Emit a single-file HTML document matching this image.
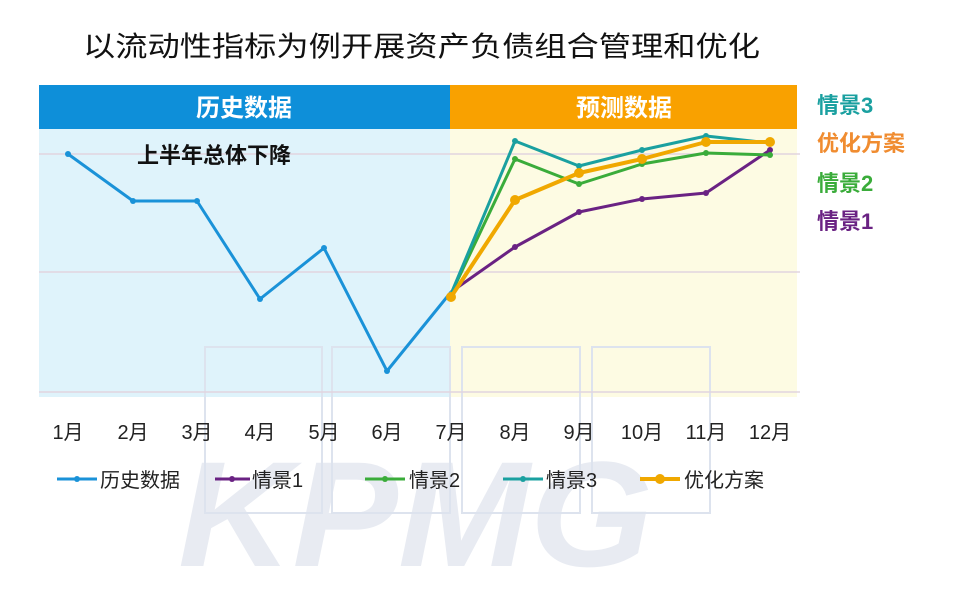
<!DOCTYPE html>
<html><head><meta charset="utf-8"><style>
html,body{margin:0;padding:0;background:#fff;}
svg{display:block;}
text{font-family:"Liberation Sans","Noto Sans CJK SC",sans-serif;}
</style></head><body>
<svg width="970" height="596" viewBox="0 0 970 596" xmlns="http://www.w3.org/2000/svg">
<text x="178" y="566" font-size="150" font-weight="bold" font-style="italic" fill="#e8ebf2" textLength="475" lengthAdjust="spacingAndGlyphs">KPMG</text>
<rect x="39" y="129" width="411" height="268" fill="#dff3fb"/>
<rect x="450" y="129" width="347" height="268" fill="#fdfbe3"/>
<g fill="none" stroke="#dde3ee" stroke-width="2">
<rect x="205" y="347" width="117" height="166"/>
<rect x="332" y="347" width="118" height="166"/>
<rect x="462" y="347" width="118" height="166"/>
<rect x="592" y="347" width="118" height="166"/>
</g>
<g stroke="#e2d5df" stroke-width="1.5">
<line x1="39" y1="154" x2="800" y2="154"/>
<line x1="39" y1="272" x2="800" y2="272"/>
<line x1="39" y1="392" x2="800" y2="392"/>
</g>
<rect x="39" y="85" width="411" height="44" fill="#0e8fd9"/>
<rect x="450" y="85" width="347" height="44" fill="#f9a100"/>
<text x="244" y="116" font-size="24" font-weight="bold" fill="#fff" text-anchor="middle">历史数据</text>
<text x="624" y="116" font-size="24" font-weight="bold" fill="#fff" text-anchor="middle">预测数据</text>
<text x="83" y="56" font-size="28" fill="#111" textLength="677" lengthAdjust="spacingAndGlyphs">以流动性指标为例开展资产负债组合管理和优化</text>
<text x="137" y="163" font-size="22" font-weight="bold" fill="#111">上半年总体下降</text>
<g fill="none" stroke-width="3" stroke-linejoin="round">
<polyline stroke="#1a92d8" points="68,154 133,201 197,201 260,299 324,248 387,371 451,292"/>
<polyline stroke="#6a2283" points="451,292 515,247 579,212 642,199 706,193 770,150"/>
<polyline stroke="#3aac3a" points="451,294 515,159 579,184 642,164 706,153 770,155"/>
<polyline stroke="#1aa0a0" points="451,294 515,141 579,166 642,150 706,136 770,143"/>
<polyline stroke="#f0a800" stroke-width="4" points="451,297 515,200 579,173 642,159 706,142 770,142"/>
</g>
<g fill="#1a92d8"><circle cx="68" cy="154" r="3"/><circle cx="133" cy="201" r="3"/><circle cx="197" cy="201" r="3"/><circle cx="260" cy="299" r="3"/><circle cx="324" cy="248" r="3"/><circle cx="387" cy="371" r="3"/></g>
<g fill="#6a2283"><circle cx="515" cy="247" r="3"/><circle cx="579" cy="212" r="3"/><circle cx="642" cy="199" r="3"/><circle cx="706" cy="193" r="3"/><circle cx="770" cy="150" r="3"/></g>
<g fill="#3aac3a"><circle cx="515" cy="159" r="3"/><circle cx="579" cy="184" r="3"/><circle cx="642" cy="164" r="3"/><circle cx="706" cy="153" r="3"/><circle cx="770" cy="155" r="3"/></g>
<g fill="#1aa0a0"><circle cx="515" cy="141" r="3"/><circle cx="579" cy="166" r="3"/><circle cx="642" cy="150" r="3"/><circle cx="706" cy="136" r="3"/></g>
<g fill="#f0a800"><circle cx="451" cy="297" r="5"/><circle cx="515" cy="200" r="5"/><circle cx="579" cy="173" r="5"/><circle cx="642" cy="159" r="5"/><circle cx="706" cy="142" r="5"/><circle cx="770" cy="142" r="5"/></g>
<g font-size="22" font-weight="bold">
<text x="817" y="113" fill="#1aa0a0">情景3</text>
<text x="817" y="151" fill="#f08c30">优化方案</text>
<text x="817" y="191" fill="#3aac3a">情景2</text>
<text x="817" y="229" fill="#6a2283">情景1</text>
</g>
<g font-size="20" fill="#222" text-anchor="middle">
<text x="68" y="439">1月</text><text x="133" y="439">2月</text><text x="197" y="439">3月</text><text x="260" y="439">4月</text><text x="324" y="439">5月</text><text x="387" y="439">6月</text><text x="451" y="439">7月</text><text x="515" y="439">8月</text><text x="579" y="439">9月</text><text x="642" y="439">10月</text><text x="706" y="439">11月</text><text x="770" y="439">12月</text>
</g>
<g stroke-width="3">
<line x1="57" y1="479" x2="97" y2="479" stroke="#1a92d8"/><circle cx="77" cy="479" r="3" fill="#1a92d8"/>
<line x1="215" y1="479" x2="250" y2="479" stroke="#6a2283"/><circle cx="232" cy="479" r="3" fill="#6a2283"/>
<line x1="365" y1="479" x2="405" y2="479" stroke="#3aac3a"/><circle cx="385" cy="479" r="3" fill="#3aac3a"/>
<line x1="503" y1="479" x2="543" y2="479" stroke="#1aa0a0"/><circle cx="523" cy="479" r="3" fill="#1aa0a0"/>
<line x1="640" y1="479" x2="680" y2="479" stroke="#f0a800" stroke-width="4"/><circle cx="660" cy="479" r="5" fill="#f0a800"/>
</g>
<g font-size="20" fill="#222">
<text x="100" y="487">历史数据</text>
<text x="252" y="487">情景1</text>
<text x="409" y="487">情景2</text>
<text x="546" y="487">情景3</text>
<text x="684" y="487">优化方案</text>
</g>
</svg>
</body></html>
